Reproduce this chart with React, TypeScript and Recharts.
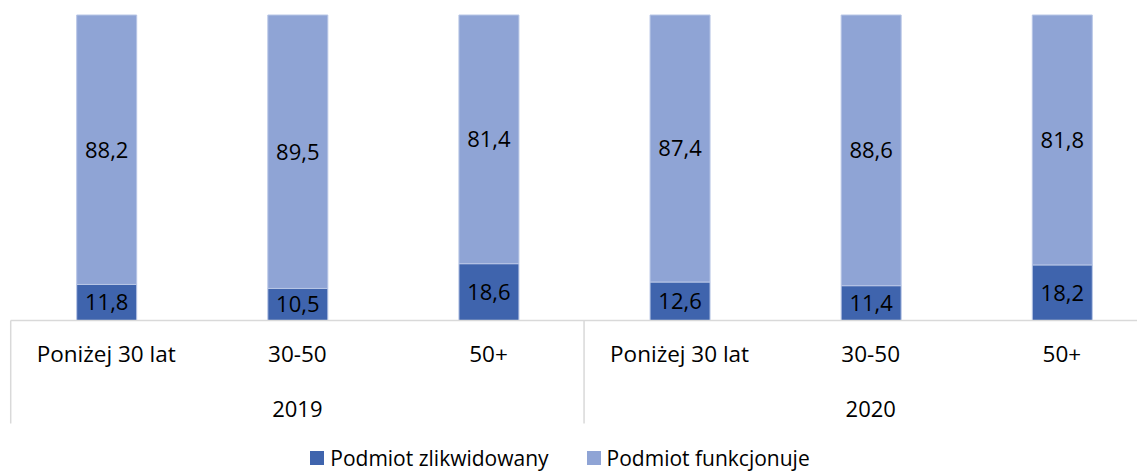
import { BarChart, Bar, XAxis, YAxis, LabelList } from "recharts";

// Share of businesses by founder age group, two survey years (%)
const ageGroups = ["Poniżej 30 lat", "30-50", "50+", "Poniżej 30 lat", "30-50", "50+"];
const years = ["2019", "2019", "2019", "2020", "2020", "2020"];
const closed = [11.8, 10.5, 18.6, 12.6, 11.4, 18.2];
const running = [88.2, 89.5, 81.4, 87.4, 88.6, 81.8];

const SERIES = [
  { key: "closed", name: "Podmiot zlikwidowany", color: "#3F64AD" },
  { key: "running", name: "Podmiot funkcjonuje", color: "#8FA4D5" },
];

const data = ageGroups.map((g, i) => ({
  id: i,
  group: g,
  year: years[i],
  closed: closed[i],
  running: running[i],
}));

const FONT = "'Open Sans', 'Noto Sans', sans-serif";
const W = 1160;
const H = 465;
const MARGIN = { top: 7, right: 10.6, left: 2.7, bottom: 0 };
const BAND = (W - MARGIN.left - MARGIN.right) / data.length;

const fmt = (v: any) => Number(v).toFixed(1).replace(".", ",");

function AxisTick(props: any) {
  const { x, y, payload, index } = props;
  const d = data[index] ?? data[payload.index];
  const group = d ? d.group : "";
  const lines: any[] = [];
  if (index % 3 === 0) {
    lines.push(<line key="l" x1={x - BAND / 2} x2={x - BAND / 2} y1={y} y2={y + 103} stroke="#D9D9D9" strokeWidth={1.5} />);
  }
  if (index === data.length - 1) {
    lines.push(<line key="r" x1={x + BAND / 2} x2={x + BAND / 2} y1={y} y2={y + 103} stroke="#D9D9D9" strokeWidth={1.5} />);
  }
  return (
    <g>
      {lines}
      <text x={x} y={y + 33} textAnchor="middle" dominantBaseline="central" fontSize={22.5} fill="#000" fontFamily={FONT}>
        {group}
      </text>
      {index % 3 === 1 && d && (
        <text x={x} y={y + 87} textAnchor="middle" dominantBaseline="central" fontSize={22} fill="#000" fontFamily={FONT}>
          {d.year}
        </text>
      )}
    </g>
  );
}

export default function App() {
  return (
    <div style={{ position: "relative", width: 1137, height: H }}>
      <div style={{ width: 1137, height: H, overflow: "hidden" }}>
        <BarChart width={W} height={H} data={data} margin={MARGIN} barCategoryGap={0}>
          <XAxis
            dataKey="id"
            height={H - MARGIN.top - 305.5}
            tick={<AxisTick />}
            tickLine={false}
            tickSize={0}
            tickMargin={0}
            interval={0}
            axisLine={{ stroke: "#D9D9D9", strokeWidth: 1.5 }}
          />
          <YAxis hide domain={[0, 100]} />
          {SERIES.map((s) => (
            <Bar
              key={s.key}
              dataKey={s.key}
              name={s.name}
              stackId="a"
              fill={s.color}
              stroke="#B8C6E6"
              strokeWidth={1}
              barSize={60}
              isAnimationActive={false}
            >
              <LabelList dataKey={s.key} position="center" formatter={fmt} fill="#000" fontSize={22} fontFamily={FONT} />
            </Bar>
          ))}
        </BarChart>
      </div>
      <div
        style={{
          position: "absolute",
          left: 52,
          width: 1000,
          top: 439,
          height: 22,
          lineHeight: "22px",
          display: "flex",
          justifyContent: "center",
          alignItems: "center",
          gap: 38,
          fontSize: 21,
          fontFamily: FONT,
          color: "#000",
        }}
      >
        {SERIES.map((s) => (
          <div key={s.key} style={{ display: "flex", alignItems: "center", gap: 6 }}>
            <span style={{ width: 14, height: 14, background: s.color, display: "inline-block" }} />
            <span>{s.name}</span>
          </div>
        ))}
      </div>
    </div>
  );
}
